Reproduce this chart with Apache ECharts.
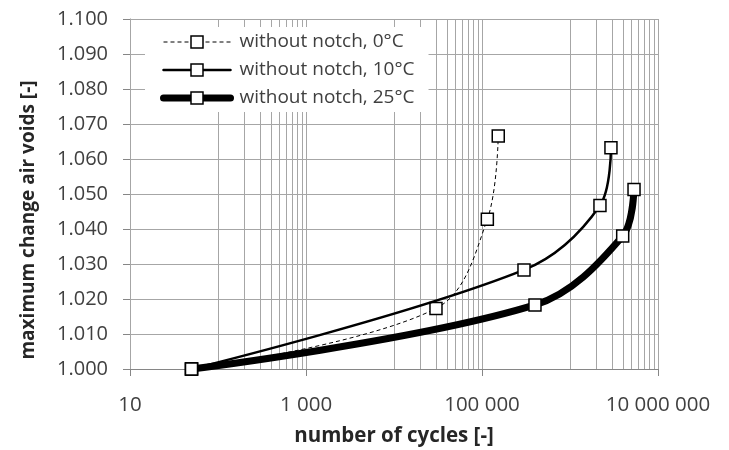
<!DOCTYPE html>
<html><head><meta charset="utf-8">
<script src="https://cdn.jsdelivr.net/npm/echarts@6/dist/echarts.min.js"></script>
<style>html,body{margin:0;padding:0;background:#fff}#c{width:729px;height:450px}</style>
</head><body><div id="c"></div>
<script>
const seriesNames = ['without notch, 0°C', 'without notch, 10°C', 'without notch, 25°C'];
const cycles0 = [50, 30000, 115000, 153000];
const values0 = [1.000, 1.0173, 1.0428, 1.0666];
const cycles10 = [50, 300000, 2190000, 2920000];
const values10 = [1.000, 1.0283, 1.0467, 1.0632];
const cycles25 = [50, 400000, 3970000, 5340000];
const values25 = [1.000, 1.0183, 1.0380, 1.0513];
const xTickValues = [10, 1000, 100000, 10000000];
const yMin = 1.000, yMax = 1.100, yStep = 0.010;

// vertical grid lines (Excel log base 100 with minor gridlines)
const xGridValues = [];
xTickValues.forEach(function (v, i) {
  xGridValues.push(v);
  if (i < xTickValues.length - 1) {
    for (let m = 1; m <= 9; m++) xGridValues.push(v * 10 * m);
  }
});

function fmtNum(n) { return String(Math.round(n)).replace(/\B(?=(\d{3})+(?!\d))/g, ' '); }
function pairs(xs, ys) { return xs.map(function (x, i) { return [x, ys[i]]; }); }

const FONT = 'Open Sans';
const gridColor = '#a6a6a6';
const axisColor = '#868686';
const textColor = '#404040';

const lineStyles = [
  {color: '#000', width: 1, type: [4, 3]},
  {color: '#000', width: 2.5, cap: 'round'},
  {color: '#000', width: 7, cap: 'round', join: 'round'}
];
const symStyle = {color: '#fff', borderColor: '#000', borderWidth: 1.5};

const chart = echarts.init(document.getElementById('c'), null, {renderer: 'canvas'});
chart.setOption({
  animation: false,
  grid: {left: 130, right: 71, top: 19, bottom: 81, containLabel: false, outerBoundsMode: 'none'},
  legend: {
    data: seriesNames.map(function (n, i) {
      return {name: n, lineStyle: lineStyles[i], itemStyle: symStyle};
    }),
    orient: 'vertical',
    left: 145, top: 27,
    backgroundColor: '#fff',
    padding: [5, 14, 4, 15],
    itemWidth: 67, itemHeight: 15, itemGap: 8,
    textStyle: {fontFamily: FONT, fontSize: 19, color: textColor, lineHeight: 20, padding: [0, 0, 0, 4]}
  },
  xAxis: {
    type: 'log', logBase: 10, min: 10, max: 10000000,
    name: 'number of cycles [-]', nameLocation: 'middle', nameGap: 57,
    nameTextStyle: {fontFamily: FONT, fontSize: 20.5, fontWeight: 'bold', color: '#262626'},
    axisLine: {show: true, lineStyle: {color: axisColor, width: 1}},
    axisTick: {show: true, inside: false, length: 7, customValues: xTickValues, lineStyle: {color: axisColor}},
    axisLabel: {customValues: xTickValues, formatter: function (v) { return fmtNum(v); }, margin: 26,
      fontFamily: FONT, fontSize: 20.5, color: textColor},
    splitLine: {show: false}, minorTick: {show: false}, minorSplitLine: {show: false}
  },
  yAxis: {
    type: 'value', min: yMin, max: yMax, interval: yStep,
    name: 'maximum change air voids [-]', nameLocation: 'middle', nameGap: 92,
    nameTextStyle: {fontFamily: FONT, fontSize: 19, fontWeight: 'bold', color: '#262626', padding: [0, 52, 0, 0]},
    axisLine: {show: true, lineStyle: {color: axisColor, width: 1}},
    axisTick: {show: true, inside: false, length: 7, lineStyle: {color: axisColor}},
    axisLabel: {formatter: function (v) { return v.toFixed(3); }, margin: 22,
      fontFamily: FONT, fontSize: 20, color: textColor},
    splitLine: {show: true, lineStyle: {color: gridColor, width: 1}}
  },
  series: [
    {
      type: 'line', name: '__grid', data: [], silent: true, z: 1,
      markLine: {silent: true, symbol: 'none', z: 1, animation: false,
        label: {show: false},
        lineStyle: {color: gridColor, width: 1, type: 'solid'},
        emphasis: {disabled: true},
        data: xGridValues.map(function (v) { return {xAxis: v}; })}
    },
    {type: 'line', name: seriesNames[0], data: pairs(cycles0, values0), smooth: 0.35, z: 3,
      symbol: 'rect', symbolSize: 12, itemStyle: symStyle, lineStyle: lineStyles[0]},
    {type: 'line', name: seriesNames[1], data: pairs(cycles10, values10), smooth: 0.35, z: 4,
      symbol: 'rect', symbolSize: 12, itemStyle: symStyle, lineStyle: lineStyles[1]},
    {type: 'line', name: seriesNames[2], data: pairs(cycles25, values25), smooth: 0.35, z: 5,
      symbol: 'rect', symbolSize: 12, itemStyle: symStyle, lineStyle: lineStyles[2]}
  ]
});
</script></body></html>
